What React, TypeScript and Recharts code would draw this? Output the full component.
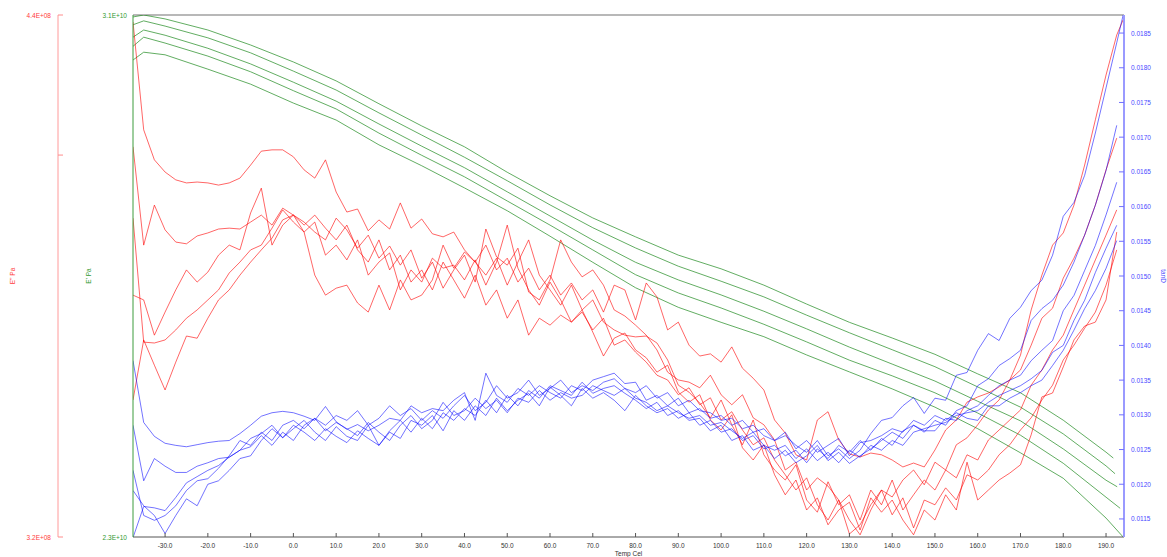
import { LineChart, Line, XAxis, YAxis, ReferenceLine } from 'recharts'

// sample temperatures (Cel) for the E'' and tanD runs
const temps = [
  -37.5, -35, -32.5, -30, -27.5, -25, -22.5, -20, -17.5, -15, -12.5, -10, -7.5, -5, -2.5, 0, 2.5, 5, 7.5, 10,
  12.5, 15, 17.5, 20, 22.5, 25, 27.5, 30, 32.5, 35, 37.5, 40, 42.5, 45, 47.5, 50, 52.5, 55, 57.5, 60,
  62.5, 65, 67.5, 70, 72.5, 75, 77.5, 80, 82.5, 85, 87.5, 90, 92.5, 95, 97.5, 100, 102.5, 105, 107.5, 110,
  112.5, 115, 117.5, 120, 122.5, 125, 127.5, 130, 132.5, 135, 137.5, 140, 142.5, 145, 147.5, 150, 152.5, 155, 157.5, 160,
  162.5, 165, 167.5, 170, 172.5, 175, 177.5, 180, 182.5, 185, 187.5, 190, 192.5, 194,
]

// E' runs are smooth, sampled coarser; each run stops at its own end temperature
const storageTemps = [-37.5, -35, -30, -20, -10, 0, 10, 20, 30, 40, 50, 60, 70, 80, 90, 100, 110, 120, 130, 140, 150, 160, 170, 180, 190]
const storageEndTemps = [191.7, 192.1, 192.6, 193.3, 194]

// E' in 1E+10 Pa
const storage1 = [3.097, 3.1, 3.094, 3.077, 3.054, 3.028, 2.999, 2.964, 2.93, 2.898, 2.859, 2.823, 2.789, 2.76, 2.732, 2.711, 2.686, 2.657, 2.629, 2.605, 2.58, 2.55, 2.521, 2.479, 2.43, 2.421]
const storage2 = [3.085, 3.091, 3.083, 3.065, 3.042, 3.014, 2.985, 2.95, 2.916, 2.882, 2.846, 2.809, 2.774, 2.743, 2.715, 2.692, 2.668, 2.64, 2.613, 2.587, 2.561, 2.53, 2.499, 2.458, 2.409, 2.397]
const storage3 = [3.066, 3.077, 3.069, 3.049, 3.025, 2.997, 2.968, 2.933, 2.899, 2.866, 2.829, 2.792, 2.755, 2.721, 2.694, 2.671, 2.646, 2.619, 2.591, 2.565, 2.539, 2.508, 2.478, 2.435, 2.387, 2.377]
const storage4 = [3.052, 3.066, 3.057, 3.037, 3.013, 2.984, 2.956, 2.919, 2.885, 2.852, 2.815, 2.778, 2.74, 2.702, 2.674, 2.651, 2.626, 2.599, 2.571, 2.547, 2.521, 2.49, 2.456, 2.413, 2.361, 2.344]
const storage5 = [3.031, 3.043, 3.039, 3.017, 2.994, 2.965, 2.939, 2.901, 2.869, 2.835, 2.8, 2.761, 2.721, 2.682, 2.652, 2.629, 2.607, 2.579, 2.553, 2.527, 2.499, 2.466, 2.429, 2.39, 2.329, 2.3]

// E'' in 1E+08 Pa
const loss1 = [
  4.384, 4.136, 4.067, 4.039, 4.021, 4.014, 4.016, 4.014, 4.009, 4.014,
  4.025, 4.055, 4.087, 4.09, 4.09, 4.074, 4.044, 4.025, 4.067, 3.993,
  3.947, 3.954, 3.904, 3.929, 3.908, 3.968, 3.91, 3.931, 3.897, 3.89,
  3.901, 3.86, 3.832, 3.871, 3.814, 3.841, 3.786, 3.818, 3.768, 3.802,
  3.756, 3.784, 3.745, 3.768, 3.717, 3.779, 3.768, 3.699, 3.784, 3.752,
  3.676, 3.694, 3.641, 3.616, 3.621, 3.602, 3.637, 3.588, 3.565, 3.538,
  3.469, 3.439, 3.389, 3.377, 3.469, 3.488, 3.423, 3.391, 3.384, 3.393,
  3.389, 3.377, 3.361, 3.37, 3.361, 3.4, 3.446, 3.469, 3.51, 3.522,
  3.531, 3.545, 3.561, 3.584, 3.641, 3.703, 3.726, 3.795, 3.841, 3.894,
  3.963, 4.044, 4.117, null,
]
const loss2 = [
  4.097, 3.871, 3.963, 3.906, 3.878, 3.874, 3.892, 3.899, 3.908, 3.91,
  3.908, 3.924, 3.94, 3.917, 3.956, 3.94, 3.924, 3.901, 3.883, 3.933,
  3.906, 3.864, 3.894, 3.841, 3.869, 3.825, 3.86, 3.795, 3.832, 3.772,
  3.814, 3.848, 3.786, 3.908, 3.844, 3.825, 3.864, 3.763, 3.745, 3.791,
  3.883, 3.832, 3.798, 3.814, 3.779, 3.722, 3.708, 3.687, 3.664, 3.63,
  3.579, 3.561, 3.556, 3.543, 3.572, 3.527, 3.504, 3.527, 3.474, 3.458,
  3.423, 3.354, 3.372, 3.308, 3.336, 3.317, 3.285, 3.239, 3.205, 3.262,
  3.308, 3.292, 3.331, 3.354, 3.32, 3.372, 3.354, 3.412, 3.428, 3.458,
  3.492, 3.515, 3.561, 3.618, 3.722, 3.802, 3.871, 3.899, 3.963, 4.055,
  4.159, 4.262, 4.354, 4.389,
]
const loss3 = [
  3.933, 3.648, 3.646, 3.653, 3.676, 3.703, 3.722, 3.745, 3.768, 3.807,
  3.832, 3.86, 3.871, 3.91, 3.952, 3.924, 3.901, 3.802, 3.756, 3.772,
  3.779, 3.738, 3.717, 3.779, 3.722, 3.791, 3.745, 3.756, 3.791, 3.871,
  3.818, 3.855, 3.832, 3.802, 3.841, 3.779, 3.832, 3.883, 3.802, 3.768,
  3.733, 3.779, 3.722, 3.745, 3.694, 3.676, 3.664, 3.66, 3.662, 3.646,
  3.607, 3.549, 3.533, 3.508, 3.474, 3.515, 3.458, 3.412, 3.469, 3.389,
  3.354, 3.331, 3.366, 3.285, 3.257, 3.327, 3.274, 3.297, 3.239, 3.308,
  3.274, 3.331, 3.262, 3.297, 3.331, 3.308, 3.354, 3.336, 3.389, 3.377,
  3.423, 3.446, 3.469, 3.492, 3.549, 3.584, 3.63, 3.664, 3.722, 3.779,
  3.837, 3.894, 3.952, null,
]
const loss4 = [
  3.756, 3.745, 3.664, 3.717, 3.768, 3.814, 3.786, 3.809, 3.848, 3.871,
  3.86, 3.945, 4.002, 3.871, 3.917, 3.94, 3.901, 3.924, 3.848, 3.871,
  3.837, 3.883, 3.802, 3.832, 3.853, 3.768, 3.814, 3.786, 3.841, 3.818,
  3.825, 3.791, 3.837, 3.779, 3.832, 3.917, 3.818, 3.768, 3.733, 3.786,
  3.745, 3.694, 3.717, 3.676, 3.703, 3.641, 3.653, 3.625, 3.602, 3.572,
  3.561, 3.527, 3.543, 3.504, 3.52, 3.469, 3.488, 3.446, 3.412, 3.428,
  3.377, 3.343, 3.308, 3.336, 3.274, 3.239, 3.285, 3.207, 3.228, 3.274,
  3.308, 3.251, 3.29, 3.221, 3.285, 3.274, 3.313, 3.285, 3.343, 3.331,
  3.354, 3.389, 3.412, 3.446, 3.474, 3.515, 3.549, 3.607, 3.641, 3.68,
  3.717, 3.779, 3.86, null,
]
const loss5 = [
  3.515, 3.653, 3.595, 3.538, 3.602, 3.662, 3.657, 3.703, 3.745, 3.768,
  3.802, 3.832, 3.86, 3.887, 3.929, 3.94, 3.917, 3.94, 3.91, 3.883,
  3.917, 3.86, 3.832, 3.883, 3.814, 3.848, 3.786, 3.814, 3.768, 3.832,
  3.791, 3.749, 3.802, 3.733, 3.768, 3.703, 3.745, 3.664, 3.703, 3.687,
  3.71, 3.694, 3.722, 3.671, 3.616, 3.657, 3.669, 3.63, 3.612, 3.579,
  3.595, 3.533, 3.51, 3.527, 3.469, 3.446, 3.481, 3.405, 3.377, 3.412,
  3.343, 3.297, 3.331, 3.262, 3.29, 3.228, 3.262, 3.28, 3.216, 3.29,
  3.257, 3.285, 3.239, 3.205, 3.262, 3.239, 3.297, 3.262, 3.372, 3.285,
  3.308, 3.331, 3.347, 3.366, 3.435, 3.522, 3.531, 3.591, 3.653, 3.685,
  3.694, 3.745, 3.901, null,
]

// tanD
const tan1 = [
  0.01378, 0.01289, 0.01269, 0.01259, 0.01256, 0.01254, 0.01257, 0.0126, 0.01262, 0.01263,
  0.01273, 0.01285, 0.01298, 0.01303, 0.01305, 0.01303, 0.01298, 0.01292, 0.01312, 0.0129,
  0.01279, 0.01286, 0.01277, 0.01285, 0.01295, 0.01292, 0.01313, 0.01303, 0.01309, 0.01306,
  0.01321, 0.01332, 0.01292, 0.0136, 0.01328, 0.01318, 0.01338, 0.01328, 0.01342, 0.01332,
  0.01324, 0.01342, 0.01335, 0.0135, 0.01355, 0.0136, 0.01345, 0.01347, 0.01321, 0.01328,
  0.01313, 0.01324, 0.01303, 0.01309, 0.01295, 0.01299, 0.01285, 0.01292, 0.01275, 0.0128,
  0.01263, 0.0127, 0.01256, 0.01246, 0.01263, 0.01241, 0.01251, 0.01237, 0.01249, 0.01273,
  0.01292, 0.01296, 0.01313, 0.01325, 0.01302, 0.01324, 0.01321, 0.01357, 0.01361, 0.01393,
  0.01417, 0.01407, 0.01439, 0.01455, 0.01479, 0.01494, 0.0153, 0.01586, 0.01606, 0.01645,
  0.01706, 0.01771, 0.01836, 0.01876,
]
const tan2 = [
  0.01285, 0.01205, 0.01237, 0.01226, 0.01217, 0.01217, 0.01226, 0.01231, 0.01237, 0.01239,
  0.01249, 0.01266, 0.01273, 0.01285, 0.01267, 0.0128, 0.01292, 0.01275, 0.01263, 0.01283,
  0.01269, 0.01263, 0.01285, 0.01256, 0.01275, 0.01266, 0.01292, 0.01285, 0.01299, 0.01277,
  0.01306, 0.01292, 0.01313, 0.01299, 0.01324, 0.01306, 0.01321, 0.01331, 0.01313, 0.0134,
  0.01328, 0.01313, 0.01338, 0.01324, 0.01332, 0.01321, 0.01306, 0.01328, 0.01313, 0.01303,
  0.01309, 0.01295, 0.01303, 0.01285, 0.01292, 0.01275, 0.0128, 0.01263, 0.0127, 0.01251,
  0.01256, 0.01241, 0.01249, 0.01231, 0.01251, 0.01237, 0.01256, 0.01246, 0.01263, 0.01249,
  0.01266, 0.01256, 0.01277, 0.01285, 0.01275, 0.01292, 0.01285, 0.01306, 0.01313, 0.01342,
  0.01352, 0.01371, 0.01381, 0.01393, 0.01436, 0.01453, 0.01465, 0.01487, 0.0152, 0.01559,
  0.01602, 0.01652, 0.01717, null,
]
const tan3 = [
  0.01191, 0.01169, 0.01155, 0.01129, 0.01155, 0.01179, 0.01169, 0.012, 0.01205, 0.0122,
  0.01237, 0.01241, 0.01263, 0.0128, 0.01267, 0.01285, 0.01275, 0.01263, 0.0128, 0.01269,
  0.0126, 0.01277, 0.01266, 0.01256, 0.01277, 0.01292, 0.01275, 0.01295, 0.0128, 0.01303,
  0.01292, 0.01309, 0.01299, 0.01321, 0.01303, 0.01328, 0.01313, 0.01335, 0.01324, 0.01342,
  0.01335, 0.01328, 0.01347, 0.01331, 0.01338, 0.01342, 0.01331, 0.01321, 0.01309, 0.01318,
  0.01299, 0.01306, 0.01292, 0.01295, 0.01277, 0.01285, 0.01263, 0.0127, 0.01249, 0.01256,
  0.01237, 0.01249, 0.01231, 0.01241, 0.01256, 0.01234, 0.01246, 0.0123, 0.01241, 0.01251,
  0.01263, 0.01275, 0.01266, 0.01285, 0.01277, 0.01277, 0.01295, 0.01292, 0.01306, 0.01313,
  0.01328, 0.01342, 0.0135, 0.01357, 0.01378, 0.01393, 0.01407, 0.0145, 0.01472, 0.01508,
  0.01544, 0.01588, 0.01635, null,
]
const tan4 = [
  0.01123, 0.01168, 0.01166, 0.01162, 0.01181, 0.01202, 0.01211, 0.0122, 0.01227, 0.01239,
  0.01249, 0.01254, 0.0127, 0.01256, 0.01275, 0.01263, 0.01285, 0.01295, 0.01277, 0.01289,
  0.0128, 0.0127, 0.01289, 0.01275, 0.01263, 0.01285, 0.01299, 0.0128, 0.01292, 0.01318,
  0.01299, 0.01306, 0.01324, 0.01309, 0.01321, 0.01303, 0.01324, 0.01318, 0.01335, 0.01321,
  0.01332, 0.01324, 0.01328, 0.01342, 0.01335, 0.01328, 0.01338, 0.01324, 0.01318, 0.01306,
  0.01313, 0.01303, 0.01295, 0.01299, 0.01285, 0.01289, 0.01277, 0.01266, 0.01275, 0.01256,
  0.01249, 0.01256, 0.01237, 0.01251, 0.01234, 0.01246, 0.01231, 0.01249, 0.01239, 0.01256,
  0.01249, 0.01263, 0.01256, 0.01275, 0.0128, 0.01285, 0.01289, 0.01299, 0.01303, 0.01306,
  0.01318, 0.01328, 0.01335, 0.01342, 0.01352, 0.01364, 0.0139, 0.014, 0.01436, 0.01465,
  0.01505, 0.0154, 0.01573, null,
]
const tan5 = [
  0.0122, 0.01155, 0.01148, 0.01155, 0.01169, 0.01191, 0.01205, 0.01208, 0.01223, 0.01241,
  0.01263, 0.01256, 0.01275, 0.01263, 0.01285, 0.01292, 0.0128, 0.01295, 0.01285, 0.01299,
  0.01292, 0.01306, 0.01285, 0.01295, 0.01313, 0.01299, 0.01309, 0.01292, 0.01306, 0.01295,
  0.01313, 0.01328, 0.01306, 0.01318, 0.01342, 0.01324, 0.01332, 0.0135, 0.01328, 0.01338,
  0.0135, 0.01332, 0.01342, 0.01335, 0.01347, 0.01352, 0.01338, 0.01332, 0.01342, 0.01324,
  0.01332, 0.01313, 0.01321, 0.01306, 0.01303, 0.01292, 0.01295, 0.0128, 0.01285, 0.0127,
  0.01263, 0.01275, 0.01251, 0.01263, 0.01246, 0.01256, 0.01266, 0.01241, 0.0126, 0.01263,
  0.0127, 0.0128, 0.01275, 0.01292, 0.01285, 0.01299, 0.01292, 0.01303, 0.01295, 0.01292,
  0.01313, 0.01313, 0.01324, 0.01332, 0.01342, 0.0135, 0.01371, 0.01393, 0.01422, 0.01453,
  0.01479, 0.01511, 0.01551, null,
]

const tempTicks = [-30, -20, -10, 0, 10, 20, 30, 40, 50, 60, 70, 80, 90, 100, 110, 120, 130, 140, 150, 160, 170, 180, 190]
const tanTicks = [0.0115, 0.012, 0.0125, 0.013, 0.0135, 0.014, 0.0145, 0.015, 0.0155, 0.016, 0.0165, 0.017, 0.0175, 0.018, 0.0185]
const lossTicks = [3.2, 4.078, 4.4]
const storageTicks = [2.3, 3.1]

const FONT = '"Liberation Sans", Arial, sans-serif'
const RED = '#ff3b3b'
const GREEN = '#2f9a2f'
const BLUE = '#4a4aff'

// axis ids: the inner left axis (E') must sort before the outer one (E'')
const STORAGE_AXIS = 'a_storage'
const LOSS_AXIS = 'b_loss'

type Pt = { t: number; v: number }
const toPoints = (xs: number[], ys: (number | null)[]): Pt[] =>
  xs.map((t, i) => ({ t, v: ys[i] as number })).filter((p) => p.v != null)

const storageRuns = [storage1, storage2, storage3, storage4, storage5].map((vals, i) =>
  toPoints([...storageTemps, storageEndTemps[i]], vals)
)
const lossRuns = [loss1, loss2, loss3, loss4, loss5].map((vals) => toPoints(temps, vals))
const tanRuns = [tan1, tan2, tan3, tan4, tan5].map((vals) => toPoints(temps, vals))

const XTick = ({ x, y, payload }: any) => (
  <g>
    <line x1={x} y1={y} x2={x} y2={y - 4} stroke="#555" />
    <text x={x} y={y + 11} textAnchor="middle" fontSize={6.5} fontFamily={FONT} fill="#333">
      {payload.value.toFixed(1)}
    </text>
  </g>
)

const LossTick = ({ x, y, payload }: any) => (
  <g>
    <line x1={x} y1={y} x2={x + 5} y2={y} stroke="#ff8c8c" />
    {payload.value !== 4.078 && (
      <text x={x - 7} y={y + 2.5} textAnchor="end" fontSize={6.5} fontFamily={FONT} fill={RED}>
        {payload.value.toFixed(1)}E+08
      </text>
    )}
  </g>
)

const StorageTick = ({ x, y, payload }: any) => (
  <text x={x - 6} y={y + 2.5} textAnchor="end" fontSize={6.5} fontFamily={FONT} fill={GREEN}>
    {payload.value.toFixed(1)}E+10
  </text>
)

const TanTick = ({ x, y, payload }: any) => (
  <g>
    <line x1={x - 5} y1={y} x2={x} y2={y} stroke="#7070ff" />
    <text x={x + 7} y={y + 2.5} textAnchor="start" fontSize={6.5} fontFamily={FONT} fill={BLUE}>
      {payload.value.toFixed(4)}
    </text>
  </g>
)

const sideTitle = (text: string, color: string, dx: number, angle: number) => (props: any) => {
  const { x, y, height } = props.viewBox
  const cx = x + dx
  const cy = y + height / 2
  return (
    <text
      x={cx}
      y={cy}
      transform={`rotate(${angle} ${cx} ${cy})`}
      textAnchor="middle"
      dominantBaseline="middle"
      fontSize={6.5}
      fontFamily={FONT}
      fill={color}
    >
      {text}
    </text>
  )
}

const tempTitle = (props: any) => {
  const { x, y, width } = props.viewBox
  return (
    <text x={x + width / 2} y={y + 19} textAnchor="middle" fontSize={6.5} fontFamily={FONT} fill="#333">
      Temp Cel
    </text>
  )
}

export default function App() {
  return (
    <div style={{ position: 'absolute', left: 0, top: 0, width: 1167, height: 557, background: '#fff' }}>
      <LineChart width={1167} height={557} margin={{ top: 15, right: 0, bottom: 0, left: 0 }}>
        <XAxis
          dataKey="t"
          type="number"
          domain={[-37.5, 194.2]}
          allowDataOverflow
          ticks={tempTicks}
          interval={0}
          height={20}
          tickSize={0}
          tickMargin={0}
          tickLine={false}
          axisLine={{ stroke: '#555' }}
          tick={<XTick />}
          label={tempTitle}
        />
        <YAxis
          yAxisId={STORAGE_AXIS}
          orientation="left"
          width={75}
          domain={[2.3, 3.1]}
          allowDataOverflow
          ticks={storageTicks}
          interval={0}
          tickSize={0}
          tickMargin={0}
          tickLine={false}
          axisLine={{ stroke: '#3c9c3c' }}
          tick={<StorageTick />}
          label={sideTitle("E' Pa", GREEN, 31, -90)}
        />
        <YAxis
          yAxisId={LOSS_AXIS}
          orientation="left"
          width={58}
          domain={[3.2, 4.4]}
          allowDataOverflow
          ticks={lossTicks}
          interval={0}
          tickSize={0}
          tickMargin={0}
          tickLine={false}
          axisLine={{ stroke: '#ff9a9a' }}
          tick={<LossTick />}
          label={sideTitle("E'' Pa", RED, 13, -90)}
        />
        <YAxis
          yAxisId="tan"
          orientation="right"
          width={43}
          domain={[0.01124, 0.01876]}
          allowDataOverflow
          ticks={tanTicks}
          interval={0}
          tickSize={0}
          tickMargin={0}
          tickLine={false}
          axisLine={{ stroke: '#9a9aff', strokeWidth: 2 }}
          tick={<TanTick />}
          label={sideTitle('tanD', BLUE, 39, 90)}
        />
        <ReferenceLine yAxisId={STORAGE_AXIS} y={3.1} stroke="#a0a0a0" strokeWidth={1.5} />
        {storageRuns.map((pts, i) => (
          <Line
            key={`s${i}`}
            yAxisId={STORAGE_AXIS}
            data={pts}
            dataKey="v"
            stroke="#1f8a1f"
            strokeOpacity={0.7}
            strokeWidth={1}
            dot={false}
            activeDot={false}
            isAnimationActive={false}
          />
        ))}
        {lossRuns.map((pts, i) => (
          <Line
            key={`l${i}`}
            yAxisId={LOSS_AXIS}
            data={pts}
            dataKey="v"
            stroke="#ff0000"
            strokeOpacity={0.6}
            strokeWidth={1}
            dot={false}
            activeDot={false}
            isAnimationActive={false}
          />
        ))}
        {tanRuns.map((pts, i) => (
          <Line
            key={`t${i}`}
            yAxisId="tan"
            data={pts}
            dataKey="v"
            stroke="#0000ff"
            strokeOpacity={0.55}
            strokeWidth={1}
            dot={false}
            activeDot={false}
            isAnimationActive={false}
          />
        ))}
      </LineChart>
    </div>
  )
}
